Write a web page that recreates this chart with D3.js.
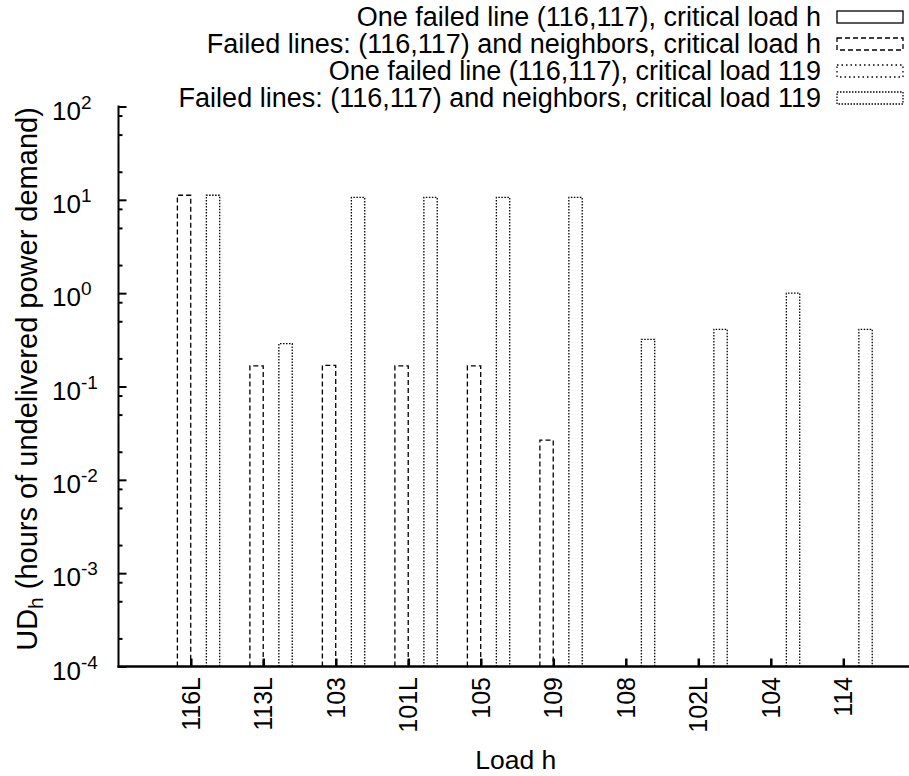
<!DOCTYPE html>
<html lang="en">
<head>
<meta charset="utf-8">
<title>UD_h per load</title>
<script src="https://cdn.jsdelivr.net/npm/d3@7"></script>
<style>
  html, body { margin: 0; padding: 0; background: white; }
  svg { font-family: "Liberation Sans", Arial, sans-serif; }
</style>
</head>
<body>
<script>
// data
const loads = ["116L", "113L", "103", "101L", "105", "109", "108", "102L", "104", "114"];
const seriesNames = [
  "One failed line (116,117), critical load h",
  "Failed lines: (116,117) and neighbors, critical load h",
  "One failed line (116,117), critical load 119",
  "Failed lines: (116,117) and neighbors, critical load 119"
];
const oneLineH   = [0, 0, 0, 0, 0, 0, 0, 0, 0, 0];
const neighborsH = [11.2, 0.166, 0.168, 0.166, 0.166, 0.0266, 0, 0, 0, 0];
const oneLine119 = [0, 0, 0, 0, 0, 0, 0, 0, 0, 0];
const neighbors119 = [11.2, 0.288, 10.6, 10.6, 10.6, 10.6, 0.32, 0.41, 1.0, 0.41];
const yTickExp = [2, 1, 0, -1, -2, -3, -4];

const series = [oneLineH, neighborsH, oneLine119, neighbors119];
const dashes = [null, "5,3", "1.5,3", "1.5,1.5"];

const W = 909, H = 776;
const mLeft = 118.5, mBottom = 666.5, mTop = 106.5, mRight = 909;
const fs = 26;

const svg = d3.select("body").append("svg")
  .attr("width", W).attr("height", H);

const y = d3.scaleLog().domain([1e-4, 1e2]).range([mBottom, mTop]);

const step = 72.5, c0 = 191.3;
const x0 = d3.scaleBand().domain(loads)
  .range([c0 - step / 2, c0 + (loads.length - 0.5) * step]);
const x1 = d3.scaleBand().domain(d3.range(4))
  .range([-29, 29]).paddingInner(0.08).paddingOuter(0.04);
const center = d => x0(d) + x0.bandwidth() / 2;

// bars
series.forEach((vals, s) => {
  svg.append("g")
    .attr("fill", "none")
    .attr("stroke", "#000")
    .attr("stroke-width", 1.3)
    .attr("stroke-dasharray", dashes[s])
    .selectAll("path")
    .data(loads.map((l, i) => ({l, v: vals[i]})).filter(d => d.v > 1e-4))
    .join("path")
    .attr("d", d => {
      const xa = center(d.l) + x1(s), xb = xa + x1.bandwidth();
      return `M${xa},${mBottom}V${y(d.v)}H${xb}V${mBottom}`;
    });
});

// y axis
const minors = [];
for (let e = -4; e < 2; e++) [2, 5, 8].forEach(m => minors.push(m * Math.pow(10, e)));

svg.append("g")
  .attr("transform", `translate(${mLeft},0)`)
  .call(d3.axisLeft(y).tickValues(minors).tickSize(-4).tickFormat(""))
  .call(g => g.select(".domain").remove())
  .call(g => g.selectAll("line").attr("stroke-width", 2));

svg.append("g")
  .attr("transform", `translate(${mLeft},0)`)
  .call(d3.axisLeft(y).tickValues(yTickExp.map(e => Math.pow(10, e))).tickSize(-8).tickFormat(""))
  .call(g => g.select(".domain").remove())
  .call(g => g.selectAll("line").attr("stroke-width", 2));

svg.append("line")
  .attr("x1", mLeft).attr("x2", mLeft)
  .attr("y1", mTop - 1).attr("y2", mBottom + 1)
  .attr("stroke", "#000").attr("stroke-width", 2);

const yl = svg.append("g").selectAll("text")
  .data(yTickExp)
  .join("text")
  .attr("x", 52)
  .attr("y", d => y(Math.pow(10, d)) + 13)
  .attr("font-size", fs);
yl.append("tspan").text("10");
yl.append("tspan").attr("dy", -11).attr("font-size", 19).text(d => d);

// x axis
svg.append("g")
  .attr("transform", `translate(0,${mBottom})`)
  .call(d3.axisBottom(x0).tickSize(-8).tickFormat(""))
  .call(g => g.select(".domain").remove())
  .call(g => g.selectAll("line").attr("stroke-width", 2.5));

svg.append("line")
  .attr("x1", mLeft - 1).attr("x2", mRight)
  .attr("y1", mBottom).attr("y2", mBottom)
  .attr("stroke", "#000").attr("stroke-width", 2.5);

svg.append("g").selectAll("text")
  .data(loads)
  .join("text")
  .attr("transform", d => `translate(${center(d) + 8.5},${677}) rotate(-90)`)
  .attr("text-anchor", "end")
  .attr("font-size", 25)
  .text(d => d);

svg.append("text")
  .attr("x", (mLeft + mRight) / 2 + 2)
  .attr("y", 769)
  .attr("text-anchor", "middle")
  .attr("font-size", 26.5)
  .text("Load h");

const ylab = svg.append("text")
  .attr("transform", `translate(37,379) rotate(-90)`)
  .attr("text-anchor", "middle")
  .attr("font-size", 29);
ylab.append("tspan").text("UD");
ylab.append("tspan").attr("dy", 6).attr("font-size", 21).text("h");
ylab.append("tspan").attr("dy", -6).text(" (hours of undelivered power demand)");

// legend
const legRows = [17, 44, 71, 98];
const leg = svg.append("g").selectAll("g")
  .data(seriesNames)
  .join("g")
  .attr("transform", (d, i) => `translate(0,${legRows[i]})`);
leg.append("text")
  .attr("x", 821).attr("y", 9)
  .attr("text-anchor", "end")
  .attr("font-size", 27)
  .text(d => d);
leg.append("rect")
  .attr("x", 837).attr("y", -6)
  .attr("width", 66).attr("height", 12)
  .attr("fill", "none").attr("stroke", "#000").attr("stroke-width", 1.3)
  .attr("stroke-dasharray", (d, i) => dashes[i]);
</script>
</body>
</html>
